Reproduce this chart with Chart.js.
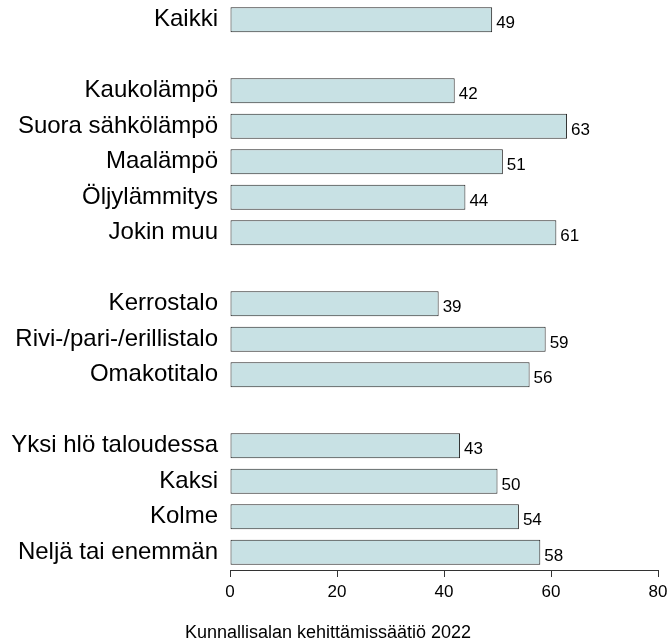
<!DOCTYPE html>
<html>
<head>
<meta charset="utf-8">
<script src="https://cdn.jsdelivr.net/npm/chart.js@4"></script>
<style>
html,body{margin:0;padding:0;background:#fff;}
#wrap{width:669px;height:644px;position:relative;}
</style>
</head>
<body>
<div id="wrap"><canvas id="c" width="669" height="644"></canvas></div>
<script>
const categories = ["Kaikki", "", "Kaukolämpö", "Suora sähkölämpö", "Maalämpö", "Öljylämmitys", "Jokin muu", "", "Kerrostalo", "Rivi-/pari-/erillistalo", "Omakotitalo", "", "Yksi hlö taloudessa", "Kaksi", "Kolme", "Neljä tai enemmän"];
const values = [49, null, 42, 63, 51, 44, 61, null, 39, 59, 56, null, 43, 50, 54, 58];
const xTicks = [0, 20, 40, 60, 80];
const caption = "Kunnallisalan kehittämissäätiö 2022";

const FONT = "'Liberation Sans', Arial, sans-serif";

const valueLabels = {
  id: 'valueLabels',
  afterDatasetsDraw(chart) {
    const ctx = chart.ctx;
    const meta = chart.getDatasetMeta(0);
    ctx.save();
    ctx.font = "17px " + FONT;
    ctx.fillStyle = "#000";
    ctx.textAlign = "left";
    ctx.textBaseline = "middle";
    meta.data.forEach((el, i) => {
      const v = values[i];
      if (v === null || v === undefined) return;
      ctx.fillText(String(v), el.x + 4, el.y + 4);
    });
    ctx.restore();
  }
};

const captionPlugin = {
  id: 'captionPlugin',
  afterDraw(chart) {
    const ctx = chart.ctx;
    ctx.save();
    ctx.font = "18px " + FONT;
    ctx.fillStyle = "#000";
    ctx.textAlign = "center";
    ctx.textBaseline = "middle";
    ctx.fillText(caption, 328, 633);
    ctx.restore();
  }
};

new Chart(document.getElementById('c'), {
  type: 'bar',
  data: {
    labels: categories,
    datasets: [{
      data: values,
      backgroundColor: 'rgb(200,225,228)',
      borderColor: '#222',
      borderWidth: 1,
      borderSkipped: false,
      categoryPercentage: 1.0,
      barPercentage: 0.7
    }]
  },
  options: {
    indexAxis: 'y',
    responsive: false,
    animation: false,
    devicePixelRatio: 1,
    layout: { padding: { top: 2, right: 11, bottom: 0, left: 0 } },
    plugins: { legend: { display: false }, tooltip: { enabled: false } },
    scales: {
      x: {
        type: 'linear',
        min: 0, max: 80,
        afterBuildTicks(scale) { scale.ticks = xTicks.map(v => ({ value: v })); },
        afterFit(scale) { scale.height = 74; scale.paddingLeft = 0; scale.paddingRight = 0; },
        grid: { display: true, drawOnChartArea: false, drawTicks: true, tickLength: 7, color: '#333', lineWidth: 1 },
        border: { display: true, color: '#333', width: 1 },
        ticks: { color: '#000', font: { family: FONT, size: 17 }, padding: 5 }
      },
      y: {
        type: 'category',
        afterFit(scale) { scale.width = 230; scale.paddingTop = 0; scale.paddingBottom = 0; },
        grid: { display: false, drawTicks: false },
        border: { display: false },
        ticks: { color: '#000', font: { family: FONT, size: 24 }, padding: 12, autoSkip: false }
      }
    }
  },
  plugins: [valueLabels, captionPlugin]
});
</script>
</body>
</html>
